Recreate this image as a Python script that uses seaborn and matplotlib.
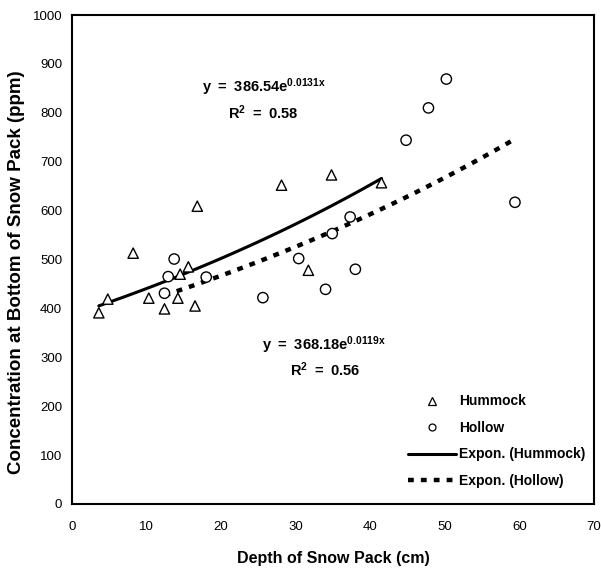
import numpy as np
import pandas as pd
import matplotlib
matplotlib.use("Agg")
import matplotlib.pyplot as plt
from matplotlib.lines import Line2D
import seaborn as sns

# ---- data ----
hummock_depth = [3.6, 4.8, 8.2, 10.3, 12.4, 14.2, 14.5, 15.6, 16.5, 16.8, 28.1, 31.7, 34.8, 41.5]
hummock_conc = [391, 419, 513, 421, 399, 421, 470, 485, 405, 609, 652, 478, 673, 657]
hollow_depth = [12.4, 12.9, 13.7, 18.0, 25.6, 30.4, 34.0, 34.9, 37.3, 38.0, 44.8, 47.8, 50.2, 59.4]
hollow_conc = [431, 465, 501, 464, 422, 502, 439, 553, 587, 480, 744, 810, 869, 617]
hummock_fit = (386.54, 0.0131, 0.58)
hollow_fit = (368.18, 0.0119, 0.56)
x_ticks = [0, 10, 20, 30, 40, 50, 60, 70]
y_ticks = [0, 100, 200, 300, 400, 500, 600, 700, 800, 900, 1000]

sns.set_style("white")
plt.rcParams['font.family'] = ['Liberation Sans', 'DejaVu Sans']
plt.rcParams['mathtext.fontset'] = 'custom'
plt.rcParams['mathtext.rm'] = 'Liberation Sans'
plt.rcParams['mathtext.bf'] = 'Liberation Sans:bold'
for k in ['text.color', 'axes.labelcolor', 'xtick.color', 'ytick.color']:
    plt.rcParams[k] = 'black'

fig = plt.figure(figsize=(6.01, 5.69), dpi=100)
ax = fig.add_axes([72/601, 1-504/569, (594-72)/601, (504-15)/569])

pts = pd.concat([
    pd.DataFrame({"depth": hummock_depth, "conc": hummock_conc, "site": "Hummock"}),
    pd.DataFrame({"depth": hollow_depth, "conc": hollow_conc, "site": "Hollow"}),
])
sns.scatterplot(data=pts, x="depth", y="conc", style="site",
                markers={"Hummock": "^", "Hollow": "o"},
                s=55, facecolor="white", edgecolor="black",
                linewidth=1.0, legend=False, ax=ax, zorder=3)

def trend(xs, fit):
    a, b, _ = fit
    xx = np.linspace(min(xs), max(xs), 100)
    return pd.DataFrame({"depth": xx, "conc": a*np.exp(b*xx)})

DASH = (0, (1.3, 1.6))
th = trend(hummock_depth, hummock_fit)
tl = trend(hollow_depth, hollow_fit)
sns.lineplot(data=th, x="depth", y="conc", color="black", lw=2.2, ax=ax, zorder=2)
sns.lineplot(data=tl, x="depth", y="conc", color="black", lw=3.2, ax=ax, zorder=2,
             linestyle=DASH)

ax.set_xlim(0, 70)
ax.set_ylim(0, 1000)
ax.set_xticks(x_ticks)
ax.set_yticks(y_ticks)
ax.tick_params(length=0, labelsize=9.5, colors="black")
ax.tick_params(axis="x", pad=12)
ax.tick_params(axis="y", pad=7)
for s in ax.spines.values():
    s.set_visible(True)
    s.set_color("black")
    s.set_linewidth(1.5)

ax.set_xlabel("Depth of Snow Pack (cm)", fontsize=11.5, fontweight="bold", labelpad=13)
ax.set_ylabel("Concentration at Bottom of Snow Pack (ppm)", fontsize=13.5,
              fontweight="bold", va="center")
ax.yaxis.set_label_coords(-0.106, 0.475)

def eq_text(fit):
    a, b, r2 = fit
    return (r"$\mathbf{y\ =\ %.2fe^{%.4fx}}$" % (a, b), r"$\mathbf{R^{2}\ =\ %.2f}$" % r2)

e1, r1 = eq_text(hummock_fit)
fig.text(264/601, 1-87/569, e1, ha="center", va="center", fontsize=10.5)
fig.text(263/601, 1-113/569, r1, ha="center", va="center", fontsize=10.5)
e2, r2_ = eq_text(hollow_fit)
fig.text(324/601, 1-345/569, e2, ha="center", va="center", fontsize=10.5)
fig.text(325/601, 1-370/569, r2_, ha="center", va="center", fontsize=10.5)

handles = [
    Line2D([], [], marker="^", color="black", markerfacecolor="white", linestyle="none", markersize=6, markeredgewidth=0.9),
    Line2D([], [], marker="o", color="black", markerfacecolor="white", linestyle="none", markersize=5, markeredgewidth=0.9),
    Line2D([], [], color="black", lw=2.2),
    Line2D([], [], color="black", lw=3.2, linestyle=DASH),
]
labels = ["Hummock", "Hollow", "Expon. (Hummock)", "Expon. (Hollow)"]
leg = ax.legend(handles, labels, loc="lower right", bbox_to_anchor=(1.0096, 0.0046),
                frameon=False, prop={"weight": "bold", "size": 10},
                handlelength=3.45, handletextpad=0.2, labelspacing=0.9,
                borderaxespad=0.6)
for t in leg.get_texts():
    t.set_color("black")

fig.savefig("out.png", dpi=100)
